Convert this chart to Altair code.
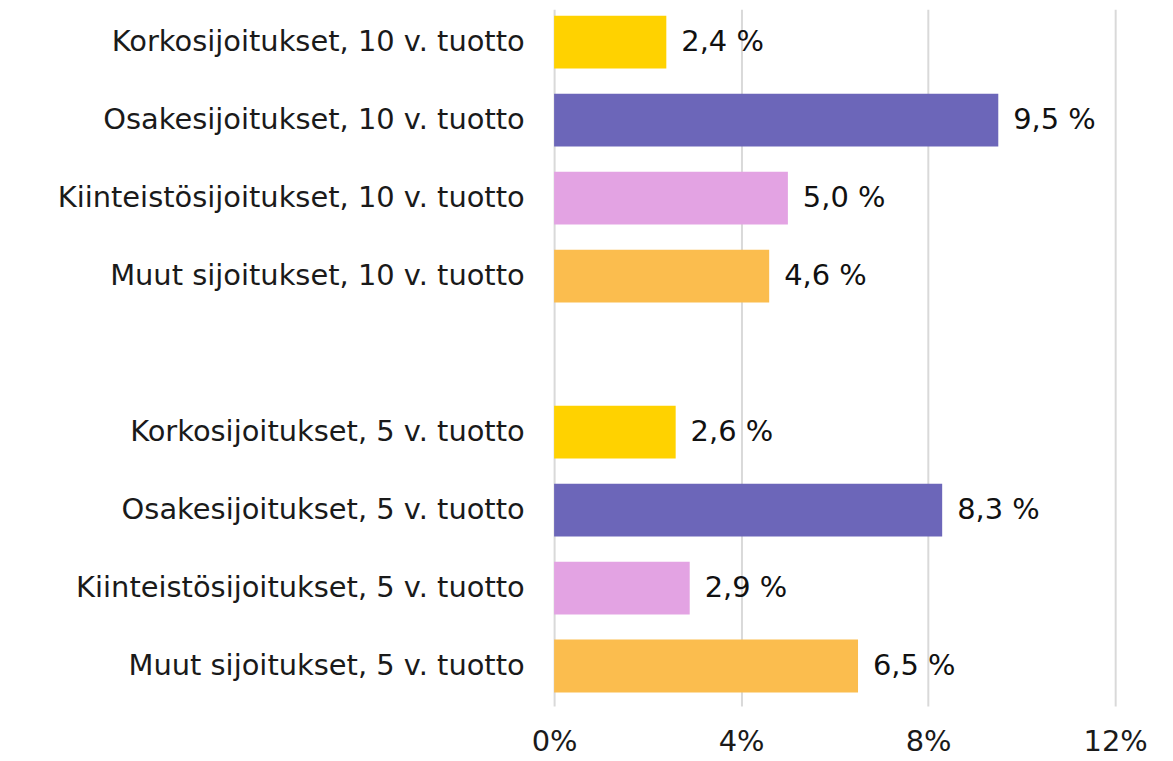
import altair as alt
import pandas as pd

categories = [
    "Korkosijoitukset, 10 v. tuotto",
    "Osakesijoitukset, 10 v. tuotto",
    "Kiinteistösijoitukset, 10 v. tuotto",
    "Muut sijoitukset, 10 v. tuotto",
    " ",
    "Korkosijoitukset, 5 v. tuotto",
    "Osakesijoitukset, 5 v. tuotto",
    "Kiinteistösijoitukset, 5 v. tuotto",
    "Muut sijoitukset, 5 v. tuotto",
]
values = [2.4, 9.5, 5.0, 4.6, None, 2.6, 8.3, 2.9, 6.5]
colors = ["#FFD200", "#6C66B9", "#E3A3E3", "#FBBD4E", "#FFFFFF",
          "#FFD200", "#6C66B9", "#E3A3E3", "#FBBD4E"]
x_ticks = [0, 4, 8, 12]

df = pd.DataFrame({"cat": categories, "val": values, "color": colors})
df["label"] = df["val"].apply(lambda v: "" if pd.isna(v) else f"{v:.1f}".replace(".", ",") + " %")

FONT = "DejaVu Sans"
FS = 29

base = alt.Chart(df).encode(
    y=alt.Y("cat:N", sort=categories, title=None,
            scale=alt.Scale(paddingInner=0.323, paddingOuter=0.128, align=0.325),
            axis=alt.Axis(labelFontSize=FS, labelColor="#1a1a1a", labelFont=FONT,
                          ticks=False, domain=False, labelPadding=30, labelLimit=600,
                          labelFontWeight=400))
)

bars = base.mark_bar().encode(
    x=alt.X("val:Q", title=None,
            scale=alt.Scale(domain=[0, 12], nice=False),
            axis=alt.Axis(values=x_ticks, labelExpr="datum.value + '%'",
                          labelFontSize=FS, labelColor="#1a1a1a", labelFont=FONT,
                          labelFlush=False,
                          ticks=False, domain=False, labelPadding=22,
                          grid=True, gridColor="#d9d9d9", gridWidth=2)),
    color=alt.Color("color:N", scale=None),
)

text = base.mark_text(align="left", dx=15, fontSize=FS, font=FONT, fontWeight=500,
                      color="#111111").encode(
    x=alt.X("val:Q"),
    text="label:N",
)

chart = (bars + text).properties(
    width=563, height=699,
    autosize=alt.AutoSizeParams(type="none"),
    padding={"left": 548, "top": 0, "right": 50, "bottom": 53},
).configure_view(strokeWidth=0)

chart.save("out.html", embed_options={"renderer": "svg", "actions": False})
